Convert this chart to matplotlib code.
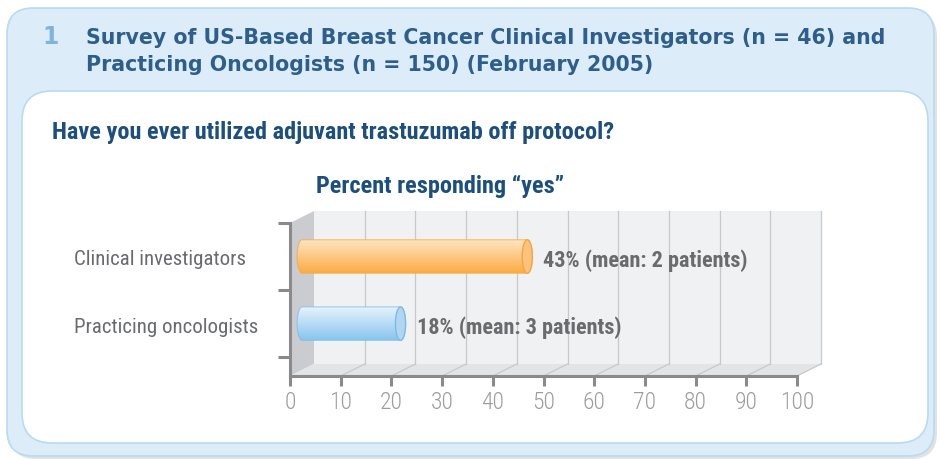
import numpy as np
import matplotlib
matplotlib.use('Agg')
import matplotlib.pyplot as plt
from matplotlib.patches import FancyBboxPatch, Rectangle, Polygon, Ellipse, PathPatch
from matplotlib.path import Path
from matplotlib.colors import LinearSegmentedColormap
import matplotlib.transforms as mtransforms

# data
categories = ['Practicing oncologists', 'Clinical investigators']
percent_yes = [18, 43]
mean_patients = [3, 2]
bar_labels = ['18% (mean: 3 patients)', '43% (mean: 2 patients)']
xticks = list(range(0, 101, 10))

title_num = '1'
title_lines = ['Survey of US-Based Breast Cancer Clinical Investigators (n = 46) and',
               'Practicing Oncologists (n = 150) (February 2005)']
question = 'Have you ever utilized adjuvant trastuzumab off protocol?'
subtitle = 'Percent responding \u201cyes\u201d'

NARROW = ['Roboto Condensed', 'Liberation Sans Narrow', 'Liberation Sans', 'DejaVu Sans']
NAVY = '#1d4f7e'
GREY_TXT = '#6a6b6e'
AXIS_GREY = '#8a8a8c'

fig = plt.figure(figsize=(9.4, 4.59), dpi=100)

# background panels in pixel coords
bg = fig.add_axes([0, 0, 1, 1])
bg.set_xlim(0, 940)
bg.set_ylim(459, 0)
bg.axis('off')

bg.add_patch(FancyBboxPatch((10, 11), 927, 448, boxstyle='round,pad=0,rounding_size=26',
                            fc='#e2e2e2', ec='none', zorder=0))
bg.add_patch(FancyBboxPatch((7, 8), 927, 448, boxstyle='round,pad=0,rounding_size=26',
                            fc='#dcedf9', ec='#b9daf1', lw=1.2, zorder=1))
bg.add_patch(FancyBboxPatch((22, 91), 906, 352, boxstyle='round,pad=0,rounding_size=30',
                            fc='white', ec='#b9daf1', lw=1.2, zorder=2))

bg.text(42, 37, title_num, fontsize=17, fontweight='bold', color='#7fb4df', va='center', zorder=3)
for i, line in enumerate(title_lines):
    bg.text(86, 38 + 27 * i, line, fontsize=14.8, fontweight='bold', color='#2e5f8c',
            va='center', zorder=3)
bg.text(52, 133, question, fontsize=17.5, fontweight='bold', color=NAVY, va='center',
        family=NARROW, zorder=3)
bg.text(440, 186, subtitle, fontsize=17.5, fontweight='bold', color=NAVY, va='center',
        ha='center', family=NARROW, zorder=3)

# chart axes (front plane)
ax = fig.add_axes([290 / 940, 1 - 376 / 459, 507 / 940, 153 / 459])
YMIN, YMAX = -0.78, 1.5
ax.set_xlim(0, 100)
ax.set_ylim(YMIN, YMAX)
ax.patch.set_visible(False)

sx = 507 / 100.0
sy = 153 / (YMAX - YMIN)
DX = 24 / sx
DY = 12 / sy

ax.add_patch(Rectangle((DX, YMIN + DY), 100, YMAX - YMIN, fc='#f0f1f3', ec='none',
                       zorder=0, clip_on=False))
ax.add_patch(Polygon([(0, YMIN), (0, YMAX), (DX, YMAX + DY), (DX, YMIN + DY)],
                     fc='#cbcccf', ec='none', zorder=0.5, clip_on=False))
ax.add_patch(Polygon([(0, YMIN), (100, YMIN), (100 + DX, YMIN + DY), (DX, YMIN + DY)],
                     fc='#e3e4e6', ec='none', zorder=0.5, clip_on=False))
for k in xticks[1:]:
    ax.plot([k + DX, k + DX], [YMIN + DY, YMAX + DY], color='#c8c9cb', lw=0.9,
            zorder=0.6, clip_on=False)
    ax.plot([k, k + DX], [YMIN, YMIN + DY], color='#c8c9cb', lw=0.9,
            zorder=0.6, clip_on=False)

for s in ['top', 'right']:
    ax.spines[s].set_visible(False)
for s in ['left', 'bottom']:
    ax.spines[s].set_color(AXIS_GREY)
    ax.spines[s].set_linewidth(2.2)
    ax.spines[s].set_zorder(3)

ax.set_xticks(xticks)
ax.set_xticklabels([str(t) for t in xticks])
ax.set_yticks([-0.5, 0.5, 1.5])
ax.set_yticklabels([])
ax.tick_params(axis='x', length=7, width=2.2, color=AXIS_GREY, labelcolor='#9d9d9f',
               labelsize=17, pad=4)
ax.tick_params(axis='y', length=9, width=2.2, color=AXIS_GREY)
for lbl in ax.get_xticklabels():
    lbl.set_family(NARROW)
    lbl.set_fontweight('light')

# cylinder bars
BAR_START = 2.4
BAR_SHIFT = 3.8
BAR_H = 0.5
RX = 1.0
styles = [
    dict(bottom='#88c5ee', top='#e8f4fd', edge='#7dbbe6', cap='#b0d6f2'),
    dict(bottom='#fbac44', top='#fee6c4', edge='#f5a73e', cap='#fdc27c'),
]

t_r = np.linspace(np.pi / 2, -np.pi / 2, 40)
t_l = np.linspace(-np.pi / 2, -3 * np.pi / 2, 40)
for yc, val, lab, st in zip(range(len(categories)), percent_yes, bar_labels, styles):
    x0 = BAR_START
    x1 = val + BAR_SHIFT
    top, bot = yc + BAR_H / 2, yc - BAR_H / 2
    verts = [(x0, top), (x1, top)]
    verts += [(x1 + RX * np.cos(t), yc + BAR_H / 2 * np.sin(t)) for t in t_r]
    verts += [(x1, bot), (x0, bot)]
    verts += [(x0 + RX * np.cos(t), yc + BAR_H / 2 * np.sin(t)) for t in t_l]
    verts.append(verts[0])
    path = Path(verts)
    outline = PathPatch(path, fc='none', ec=st['edge'], lw=0.8, alpha=0.7, zorder=2.5,
                        transform=ax.transData, clip_on=False)
    ax.add_patch(outline)
    cmap = LinearSegmentedColormap.from_list('g', [st['bottom'], st['top']])
    im = ax.imshow(np.linspace(0, 1, 64).reshape(-1, 1), cmap=cmap, origin='lower',
                   extent=[x0 - RX, x1 + RX, bot, top], aspect='auto', zorder=2,
                   interpolation='bilinear')
    im.set_clip_path(outline)
    ax.add_patch(Ellipse((x1, yc), 2 * RX, BAR_H, fc=st['cap'], ec=st['edge'], lw=1.0,
                         zorder=2.6, clip_on=False))
    ax.annotate(lab, (x1 + RX, yc), xytext=(8, -3), textcoords='offset points',
                va='center', ha='left', fontsize=16, fontweight='bold', color=GREY_TXT,
                family=NARROW, zorder=4)

ax.set_xlim(0, 100)
ax.set_ylim(YMIN, YMAX)

lab_tr = mtransforms.blended_transform_factory(fig.transFigure, ax.transData)
for yc, cat in enumerate(categories):
    ax.text(74 / 940, yc - 0.05, cat, transform=lab_tr, fontsize=15, color=GREY_TXT,
            va='center', ha='left', family=NARROW)

plt.savefig('out.png', dpi=100)
